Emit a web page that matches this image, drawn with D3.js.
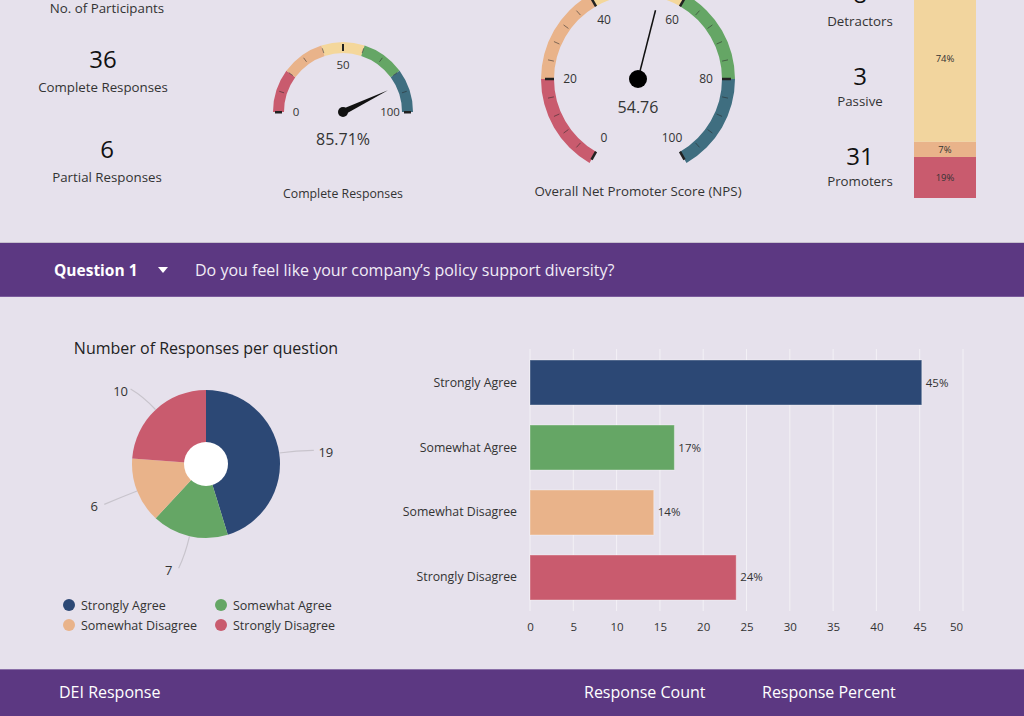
<!DOCTYPE html>
<html>
<head>
<meta charset="utf-8">
<script src="https://cdn.jsdelivr.net/npm/d3@7"></script>
<style>
  html, body { margin: 0; padding: 0; background: #e6e1ec; }
  svg { display: block; font-family: "Open Sans", "Noto Sans", sans-serif; }
</style>
</head>
<body>
<svg id="chart" width="1024" height="716"></svg>
<script>
// ---------- DATA ----------
const summaryLabels = ["No. of Participants", "Complete Responses", "Partial Responses"];
const summaryValues = [42, 36, 6];
const completeRate = 85.71;
const npsScore = 54.76;
const gaugeBreaks = [0, 20, 40, 60, 80, 100];
const gauge1Ticks = [0, 50, 100];
const gauge2Ticks = [0, 20, 40, 60, 80, 100];
const npsLabels = ["Detractors", "Passive", "Promoters"];
const npsCounts = [8, 3, 31];
const stackLabels = ["19%", "7%", "74%"];
const stackValues = [19, 7, 74];
const questionNo = "Question 1";
const questionText = "Do you feel like your company\u2019s policy support diversity?";
const categories = ["Strongly Agree", "Somewhat Agree", "Somewhat Disagree", "Strongly Disagree"];
const responseCounts = [19, 7, 6, 10];
const responsePercents = [45.24, 16.67, 14.29, 23.81];
const percentLabels = ["45%", "17%", "14%", "24%"];
const xTicks = [0, 5, 10, 15, 20, 25, 30, 35, 40, 45, 50];
const tableHeaders = ["DEI Response", "Response Count", "Response Percent"];

// ---------- STYLE ----------
const catColors = ["#2c4875", "#65a665", "#e9b38a", "#c95b6e"];
const gaugeColors = ["#c95b6e", "#e9b38a", "#f4d79b", "#65a665", "#3f6e80"];
const stackColors = ["#c95b6e", "#e9b38a", "#f2d59e"];
const purple = "#5c3882";
const textDark = "#333";

const svg = d3.select("#chart");
svg.append("rect").attr("width", 1024).attr("height", 716).attr("fill", "#e6e1ec");

// ---------- SUMMARY NUMBERS (top-left) ----------
// The page is scrolled: the total participants number (summaryValues[0]) lies above the visible area.
const sumG = svg.append("g");
const sumPos = [{x:107, num:null, lab:13}, {x:103, num:68, lab:92}, {x:107, num:158, lab:182}];
summaryValues.forEach((v, i) => {
  if (sumPos[i].num !== null) {
    sumG.append("text").attr("x", sumPos[i].x).attr("y", sumPos[i].num)
      .attr("text-anchor", "middle").attr("font-size", 24).attr("fill", "#111").text(v);
  }
  sumG.append("text").attr("x", sumPos[i].x).attr("y", sumPos[i].lab)
    .attr("text-anchor", "middle").attr("font-size", 13.3).attr("fill", textDark).text(summaryLabels[i]);
});

// ---------- GAUGE helper ----------
function drawGauge(opt) {
  const g = svg.append("g").attr("transform", `translate(${opt.cx},${opt.cy})`);
  const ang = d3.scaleLinear().domain([0, 100]).range(opt.angles);
  const arc = d3.arc().innerRadius(opt.ri).outerRadius(opt.ro);
  for (let i = 0; i < gaugeBreaks.length - 1; i++) {
    g.append("path")
      .attr("d", arc({startAngle: ang(gaugeBreaks[i]), endAngle: ang(gaugeBreaks[i+1])}))
      .attr("fill", gaugeColors[i]);
  }
  d3.range(0, 100.001, opt.minorStep).forEach(t => {
    const isMajor = opt.majorTicks.includes(t);
    const a = ang(t);
    const r1 = isMajor ? opt.majR[0] : opt.minR[0];
    const r2 = isMajor ? opt.majR[1] : opt.minR[1];
    g.append("line")
      .attr("x1", r1 * Math.sin(a)).attr("y1", -r1 * Math.cos(a))
      .attr("x2", r2 * Math.sin(a)).attr("y2", -r2 * Math.cos(a))
      .attr("stroke", isMajor ? "#222" : "rgba(40,40,40,0.55)")
      .attr("stroke-width", isMajor ? opt.majW : 1);
  });
  opt.labelTicks.forEach(t => {
    const a = ang(t);
    g.append("text")
      .attr("x", opt.lr * Math.sin(a)).attr("y", -opt.lr * Math.cos(a) + 4)
      .attr("text-anchor", "middle").attr("font-size", opt.lfs).attr("fill", textDark).text(t);
  });
  return {g, ang};
}

// Gauge 1: complete responses
const g1 = drawGauge({cx: 343, cy: 112, ri: 59, ro: 70, angles: [-Math.PI/2, Math.PI/2],
  minorStep: 10, majorTicks: [50], minR: [62, 67], majR: [61, 68], majW: 2,
  labelTicks: gauge1Ticks, lr: 47, lfs: 11.5});
[0, 100].forEach(t => {
  const xx = (t === 0 ? -1 : 1) * 64.5;
  g1.g.append("rect").attr("x", xx - 3.5).attr("y", -1).attr("width", 7).attr("height", 2.5).attr("fill", "#222");
});
{
  const a = g1.ang(completeRate);
  const L = 50, w = 3;
  const tip = [L * Math.sin(a), -L * Math.cos(a)];
  const p1 = [w * Math.cos(a), w * Math.sin(a)];
  const p2 = [-w * Math.cos(a), -w * Math.sin(a)];
  g1.g.append("path").attr("d", `M${p1}L${tip}L${p2}Z`).attr("fill", "#111");
  g1.g.append("circle").attr("r", 5).attr("fill", "#111");
  g1.g.append("text").attr("y", 33).attr("text-anchor", "middle").attr("font-size", 16)
    .attr("fill", textDark).text(completeRate.toFixed(2) + "%");
  g1.g.append("text").attr("y", 86).attr("text-anchor", "middle").attr("font-size", 12.3)
    .attr("fill", textDark).text("Complete Responses");
}

// Gauge 2: NPS
const g2 = drawGauge({cx: 638, cy: 79, ri: 84, ro: 97, angles: [-150 * Math.PI/180, 150 * Math.PI/180],
  minorStep: 4, majorTicks: gauge2Ticks, minR: [86, 92], majR: [84, 93], majW: 2.5,
  labelTicks: gauge2Ticks, lr: 68, lfs: 12});
{
  const a = g2.ang(npsScore);
  const L = 71;
  g2.g.append("line").attr("x1", 0).attr("y1", 0)
    .attr("x2", L * Math.sin(a)).attr("y2", -L * Math.cos(a))
    .attr("stroke", "#111").attr("stroke-width", 1.5);
  g2.g.append("circle").attr("r", 9).attr("fill", "#000");
  g2.g.append("text").attr("y", 34).attr("text-anchor", "middle").attr("font-size", 16)
    .attr("fill", textDark).text(npsScore.toFixed(2));
  g2.g.append("text").attr("y", 117).attr("text-anchor", "middle").attr("font-size", 13.3)
    .attr("fill", textDark).text("Overall Net Promoter Score (NPS)");
}

// ---------- NPS counts + stacked bar ----------
const npsY = [{num: 3, lab: 26}, {num: 85, lab: 106}, {num: 165, lab: 186}];
npsCounts.forEach((v, i) => {
  svg.append("text").attr("x", 860).attr("y", npsY[i].num).attr("text-anchor", "middle")
    .attr("font-size", 24).attr("fill", "#111").text(v);
  svg.append("text").attr("x", 860).attr("y", npsY[i].lab).attr("text-anchor", "middle")
    .attr("font-size", 13.3).attr("fill", textDark).text(npsLabels[i]);
});
const stackY = d3.scaleLinear().domain([0, 100]).range([198, -18]);
let acc = 0;
stackValues.forEach((v, i) => {
  const y0 = stackY(acc), y1 = stackY(acc + v);
  svg.append("rect").attr("x", 914).attr("width", 62).attr("y", y1).attr("height", y0 - y1)
    .attr("fill", stackColors[i]);
  const midY = i === 2 ? y1 + (y0 - y1) * 0.48 : (y0 + y1) / 2;
  svg.append("text").attr("x", 945).attr("y", midY + 3.5).attr("text-anchor", "middle")
    .attr("font-size", 9.5).attr("fill", textDark).text(stackLabels[i]);
  acc += v;
});

// ---------- Question bar ----------
svg.append("rect").attr("x", 0).attr("y", 242).attr("width", 1024).attr("height", 1).attr("fill", "#c7c0ce");
svg.append("rect").attr("x", 0).attr("y", 243).attr("width", 1024).attr("height", 54).attr("fill", purple);
svg.append("rect").attr("x", 0).attr("y", 296).attr("width", 1024).attr("height", 1).attr("fill", "#7a5a9c");
svg.append("text").attr("x", 54).attr("y", 276).attr("font-size", 15.5).attr("font-weight", "bold")
  .attr("fill", "#fff").text(questionNo);
svg.append("path").attr("d", "M158,267L168,267L163,273Z").attr("fill", "#fff");
svg.append("text").attr("x", 195).attr("y", 276).attr("font-size", 16)
  .attr("fill", "#f1ecf6").text(questionText);

// ---------- Pie / donut ----------
svg.append("text").attr("x", 206).attr("y", 354).attr("text-anchor", "middle")
  .attr("font-size", 16).attr("fill", "#222").text("Number of Responses per question");
const pieG = svg.append("g").attr("transform", "translate(206,464)");
const pie = d3.pie().sort(null).value(d => d)(responseCounts);
const R = 74;
const pArc = d3.arc().innerRadius(0).outerRadius(R);
pieG.selectAll("path.slice").data(pie).join("path").attr("class", "slice")
  .attr("d", pArc).attr("fill", (d, i) => catColors[i]);
pieG.append("circle").attr("r", 22).attr("fill", "#ffffff");
pie.forEach((d, i) => {
  const a = (d.startAngle + d.endAngle) / 2;
  const pt = r => [r * Math.sin(a), -r * Math.cos(a)];
  const p1 = pt(R), p2 = pt(92), p3 = pt(105);
  const right = Math.sin(a) > 0;
  const p3b = [p3[0] + (right ? 4 : -4), p3[1] + 2];
  pieG.append("path").attr("d", `M${p1}Q${p2} ${p3b}`).attr("fill", "none")
    .attr("stroke", "#c8c4cc").attr("stroke-width", 1.2);
  pieG.append("text").attr("x", p3[0] + (right ? 16 : -14)).attr("y", p3[1] + 9)
    .attr("text-anchor", "middle").attr("font-size", 13).attr("fill", textDark).text(responseCounts[i]);
});
const legPos = [[69, 605], [221, 605], [69, 625], [221, 625]];
categories.forEach((c, i) => {
  svg.append("circle").attr("cx", legPos[i][0]).attr("cy", legPos[i][1]).attr("r", 6).attr("fill", catColors[i]);
  svg.append("text").attr("x", legPos[i][0] + 12).attr("y", legPos[i][1] + 4.5)
    .attr("font-size", 12.5).attr("fill", textDark).text(c);
});

// ---------- Horizontal bar chart ----------
const x = d3.scaleLinear().domain([0, 50]).range([530, 963]);
const y = d3.scaleBand().domain(categories).range([350, 610]).paddingInner(0.3077).paddingOuter(0.154);
const barG = svg.append("g");
xTicks.forEach(t => {
  barG.append("line").attr("x1", x(t)).attr("x2", x(t)).attr("y1", 349).attr("y2", 611)
    .attr("stroke", "#f3f1f6").attr("stroke-width", 1);
});
barG.selectAll("rect.bar").data(categories).join("rect").attr("class", "bar")
  .attr("x", x(0)).attr("y", d => y(d))
  .attr("width", (d, i) => x(responsePercents[i]) - x(0)).attr("height", y.bandwidth())
  .attr("fill", (d, i) => catColors[i])
  .attr("stroke", "rgba(255,255,255,0.35)").attr("stroke-width", 1);
categories.forEach((c, i) => {
  barG.append("text").attr("x", 517).attr("y", y(c) + y.bandwidth() / 2 + 4)
    .attr("text-anchor", "end").attr("font-size", 12.3).attr("fill", textDark).text(c);
  barG.append("text").attr("x", x(responsePercents[i]) + 4).attr("y", y(c) + y.bandwidth() / 2 + 4)
    .attr("font-size", 11.5).attr("fill", textDark).text(percentLabels[i]);
});
const xAxis = d3.axisBottom(x).tickValues(xTicks).tickSize(0).tickPadding(0);
const axG = barG.append("g").attr("transform", "translate(0,623)").call(xAxis);
axG.select(".domain").remove();
axG.selectAll("text").attr("font-size", 11.5).attr("fill", textDark)
  .attr("font-family", "'Open Sans', sans-serif")
  .attr("dx", d => d === 50 ? -7 : 0);

// ---------- Bottom table header bar ----------
svg.append("rect").attr("x", 0).attr("y", 669).attr("width", 1024).attr("height", 1).attr("fill", "#8a6fa8");
svg.append("rect").attr("x", 0).attr("y", 670).attr("width", 1024).attr("height", 46).attr("fill", purple);
const hdrX = [59, 584, 762];
tableHeaders.forEach((h, i) => {
  svg.append("text").attr("x", hdrX[i]).attr("y", 698).attr("font-size", 16)
    .attr("fill", "#fff").text(h);
});
</script>
</body>
</html>
